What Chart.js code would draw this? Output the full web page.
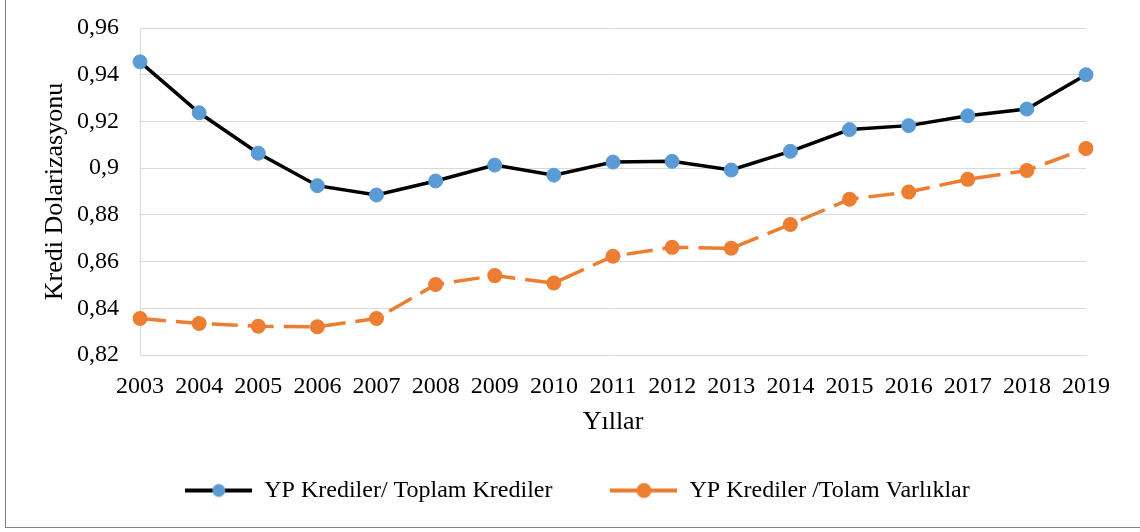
<!DOCTYPE html>
<html>
<head>
<meta charset="utf-8">
<script src="https://cdn.jsdelivr.net/npm/chart.js@4"></script>
<style>
    body { margin: 0; background: #fff; }
    #wrap { position: relative; width: 1140px; height: 532px; overflow: hidden; }
    #frame { position: absolute; left: 5px; top: -5px; width: 1140px; height: 531px; border: 1px solid #808080; }
    canvas { position: absolute; left: 0; top: 0; }
</style>
</head>
<body>
<div id="wrap">
    <div id="frame"></div>
    <canvas id="myChart" width="1140" height="532"></canvas>
</div>
<script>
let years = ["2003", "2004", "2005", "2006", "2007", "2008", "2009", "2010", "2011",
    "2012", "2013", "2014", "2015", "2016", "2017", "2018", "2019"];
let ypToplamKrediler = [0.9455, 0.9237, 0.9064, 0.8925, 0.8885, 0.8945, 0.9013, 0.8970, 0.9026,
    0.9029, 0.8992, 0.9072, 0.9165, 0.9182, 0.9224, 0.9253, 0.9400];
let ypToplamVarliklar = [0.8356, 0.8335, 0.8323, 0.8321, 0.8356, 0.8502, 0.8540, 0.8508, 0.8623,
    0.8661, 0.8657, 0.8759, 0.8867, 0.8898, 0.8952, 0.8990, 0.9084];
let seriesNames = ["YP Krediler/ Toplam Krediler", "YP Krediler /Tolam Varlıklar"];

let font = "'Liberation Serif', 'Times New Roman', serif";
let blue = "#5B9BD5";
let orange = "#ED7D31";

// legend icon: line with marker in the middle, like the office legend
function legendIcon(lineColor, markerColor, r) {
    let c = document.createElement("canvas");
    c.width = 67;
    c.height = 18;
    let ctx = c.getContext("2d");
    ctx.strokeStyle = lineColor;
    ctx.lineWidth = 4;
    ctx.beginPath();
    ctx.moveTo(0, 9);
    ctx.lineTo(67, 9);
    ctx.stroke();
    ctx.fillStyle = markerColor;
    ctx.beginPath();
    ctx.arc(33.5, 9, r, 0, Math.PI * 2);
    ctx.fill();
    return c;
}

let icons = [legendIcon("#000", blue, 6.5), legendIcon(orange, orange, 7.5)];

new Chart(document.getElementById("myChart"), {
    type: "line",
    data: {
        labels: years,
        datasets: [{
            label: seriesNames[0],
            data: ypToplamKrediler,
            borderColor: "#000",
            borderWidth: 3.5,
            tension: 0,
            pointRadius: 7,
            pointBackgroundColor: blue,
            pointBorderColor: blue,
            pointBorderWidth: 1
        }, {
            label: seriesNames[1],
            data: ypToplamVarliklar,
            borderColor: orange,
            borderWidth: 3.5,
            borderDash: [26, 10],
            tension: 0,
            pointRadius: 7.5,
            pointBackgroundColor: orange,
            pointBorderColor: orange,
            pointBorderWidth: 0
        }]
    },
    options: {
        responsive: false,
        animation: false,
        devicePixelRatio: 1,
        layout: { padding: { left: 69, right: 54, top: 28, bottom: 19.5 } },
        plugins: {
            tooltip: { enabled: false },
            legend: {
                position: "bottom",
                labels: {
                    usePointStyle: true,
                    pointStyleWidth: 67,
                    padding: 58,
                    color: "#000",
                    font: { family: font, size: 24 },
                    generateLabels: function (chart) {
                        let items = Chart.defaults.plugins.legend.labels.generateLabels(chart);
                        items.forEach((it, i) => { it.pointStyle = icons[i]; });
                        return items;
                    }
                }
            }
        },
        scales: {
            x: {
                offset: false,
                grid: { display: false },
                border: { color: "#d9d9d9", width: 1 },
                ticks: { color: "#000", font: { family: font, size: 24 }, padding: 9, maxRotation: 0, autoSkip: false },
                title: { display: true, text: "Yıllar", color: "#000", font: { family: font, size: 26 }, padding: { top: 0, bottom: -17 } },
                afterFit: function (scale) { scale.height = 65.5; }
            },
            y: {
                min: 0.82,
                max: 0.96,
                grid: { color: "#d9d9d9", lineWidth: 1, drawTicks: true, tickLength: 21, tickColor: "rgba(0,0,0,0)" },
                border: { color: "#d9d9d9", width: 1 },
                ticks: {
                    stepSize: 0.02,
                    color: "#000",
                    padding: 0,
                    font: { family: font, size: 24 },
                    callback: function (v) { return String(Math.round(v * 100) / 100).replace(".", ","); }
                },
                title: { display: true, text: "Kredi Dolarizasyonu", color: "#000", font: { family: font, size: 26 }, padding: { top: -29.6, bottom: 0 } },
                afterFit: function (scale) { scale.width = 71; }
            }
        }
    }
});
</script>
</body>
</html>
